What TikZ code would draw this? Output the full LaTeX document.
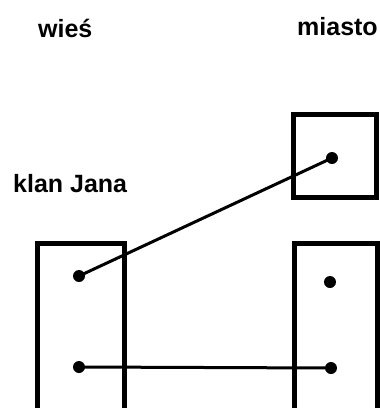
\documentclass[tikz,border=0pt]{standalone}
\usepackage{fontspec}
\setmainfont{Liberation Sans}
\begin{document}
\begin{tikzpicture}[x=1pt,y=-1pt,
  setbox/.style={draw=black,line width=5pt,inner sep=0pt,anchor=north west},
  dot/.style={circle,fill=black,inner sep=0pt,minimum size=12pt},
  conn/.style={line width=3pt},
  lbl/.style={font=\bfseries\fontsize{25}{30}\selectfont,inner sep=0pt,anchor=base west}]
\useasboundingbox (0,0) rectangle (380,408);
\clip (0,0) rectangle (380,408);
\fill[white] (0,0) rectangle (380,408);
% labels
\node[lbl] (wies) at (38,37) {wieś};
\node[lbl] (miasto) at (297,35) {miasto};
\node[lbl] (klan) at (13,192) {klan Jana};
% boxes
\node[setbox,minimum width=87pt,minimum height=167pt] (boxL) at (34.5,240.5) {};
\node[setbox,minimum width=83pt,minimum height=167pt] (boxR) at (291.5,240.5) {};
\node[setbox,minimum width=83pt,minimum height=83pt] (boxT) at (290.5,111.5) {};
% dots
\node[dot] (lu) at (79,276) {};
\node[dot] (ll) at (79,367) {};
\node[dot] (ru) at (330,282) {};
\node[dot] (rl) at (331,368) {};
\node[dot] (tr) at (332,158) {};
% connectors
\draw[conn] (lu.center) -- (tr.center);
\draw[conn] (ll.center) -- (rl.center);
\end{tikzpicture}
\end{document}
